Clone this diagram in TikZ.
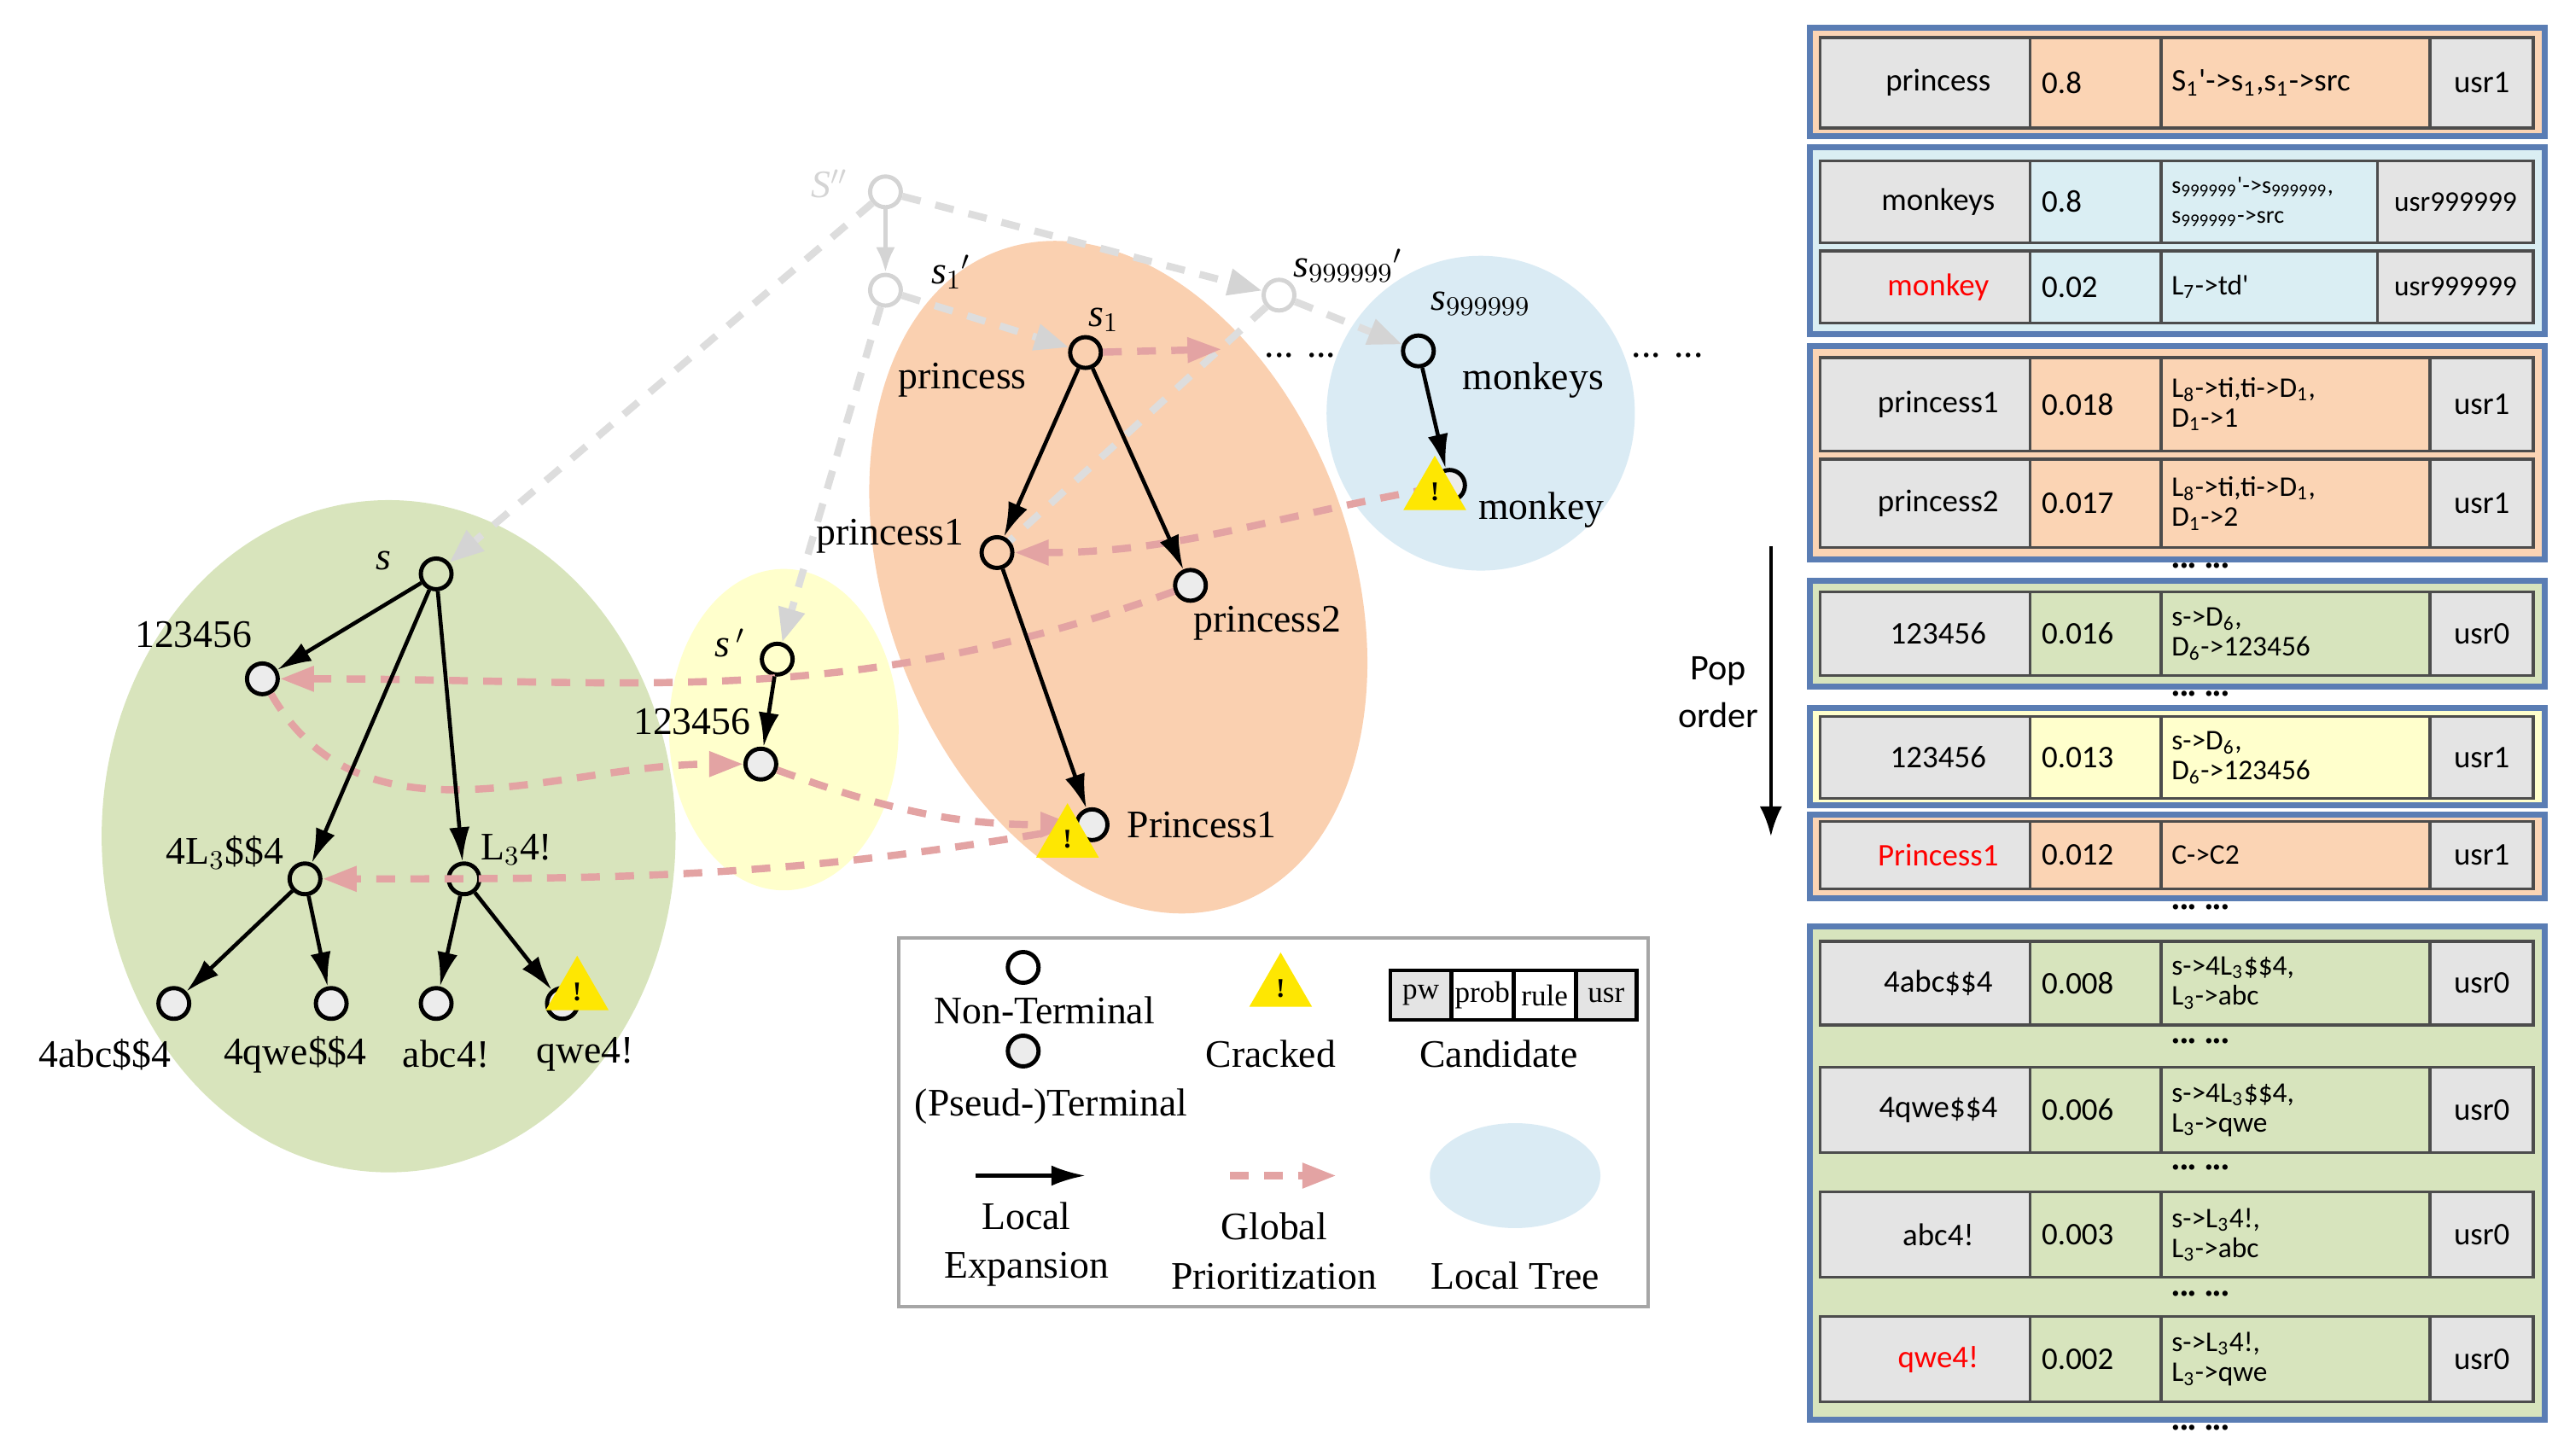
\documentclass[tikz,border=0pt]{standalone}
\usepackage{fontspec}
\setmainfont{Liberation Serif}
\newfontfamily\tsf{Carlito}
\usetikzlibrary{arrows.meta,shapes.geometric}
\definecolor{eGreen}{HTML}{D8E4BC}
\definecolor{eYellow}{HTML}{FFFFCC}
\definecolor{eOrange}{HTML}{FAD0B0}
\definecolor{eBlue}{HTML}{DAEBF4}
\definecolor{tOrange}{HTML}{FBD4B4}
\definecolor{tBlue}{HTML}{DAEEF3}
\definecolor{tGreen}{HTML}{D7E4BD}
\definecolor{tYellow}{HTML}{FFFFCC}
\definecolor{tGrey}{HTML}{E4E4E4}
\definecolor{frame}{HTML}{5A7DB4}
\definecolor{gpink}{HTML}{E3A3A3}
\definecolor{ghost}{HTML}{D4D4D4}
\tikzset{
  nt/.style={circle,draw=black,line width=1.4pt,fill=none,minimum size=3.6mm,inner sep=0pt},
  tm/.style={nt,fill=gray!15},
  lbl/.style={font=\fontsize{13}{14}\selectfont,inner sep=1pt},
  gnt/.style={circle,draw=ghost,line width=1.4pt,minimum size=3.6mm,inner sep=0pt},
  loc/.style={-{Latex[length=4mm,width=2.4mm]},line width=1.3pt},
  glob/.style={-{Triangle[length=4mm,width=2.8mm,color=gpink,fill=gpink]},dash pattern=on 2.2mm off 1.8mm,line width=2.4pt,draw=gpink},
  ghostl/.style={-{Triangle[length=4mm,width=3mm,color=ghost,fill=ghost]},dash pattern=on 2.2mm off 1.8mm,line width=2.4pt,draw=ghost!80},
  crack/.style={regular polygon,regular polygon sides=3,fill=yellow!90!orange,minimum size=8.5mm,inner sep=0pt,font=\bfseries\fontsize{9}{9}\selectfont},
  tt/.style={font=\tsf\fontsize{10.5}{11}\selectfont,inner sep=1pt},
  tr/.style={font=\tsf\fontsize{9.5}{10}\selectfont,inner sep=0pt,align=left},
  cell/.style={draw=black!70,line width=1pt},
  grp/.style={draw=frame,line width=2pt},
}
\newcommand\trow[8]{%
  \pgfmathsetmacro\ym{(#1+#2)/2}%
  \pgfmathsetmacro\xu{(#8+1545)/2}%
  \fill[tGrey] (1110,#1) rectangle (1238,#2);
  \fill[#7] (1238,#1) rectangle (#8,#2);
  \fill[tGrey] (#8,#1) rectangle (1545,#2);
  \draw[cell] (1110,#1) rectangle (1545,#2);
  \draw[cell] (1238,#1) -- (1238,#2) (1318,#1) -- (1318,#2) (#8,#1) -- (#8,#2);
  \node[tt] at (1182,\ym) {#3};
  \node[tt,anchor=west] at (1243,\ym) {#4};
  \node[tr,anchor=west] at (1324,\ym) {#5};
  \node[tt] at (\xu,\ym) {#6};
}
\newcommand\grp[3]{\fill[#3] (1104,#1) rectangle (1552,#2); \draw[grp] (1104,#1) rectangle (1552,#2);}
\newcommand\tdots[1]{\node[font=\bfseries\fontsize{11}{11}\selectfont,inner sep=0pt] at (1342,#1-3) {\textbf{...\ ...}};}
\begin{document}
\begin{tikzpicture}[x=0.1921mm,y=-0.1921mm]
\useasboundingbox (0,0) rectangle (1560,888);
% ellipses
\fill[eGreen] (237,510) ellipse [x radius=175,y radius=205];
\fill[eYellow] (478,445) ellipse [x radius=70,y radius=98];
\fill[eOrange,rotate around={20:(682,352)}] (682,352) ellipse [x radius=142,y radius=212];
\fill[eBlue] (903,252) ellipse [x radius=94,y radius=96];
% ghost nodes
\node[gnt] (gS) at (540,117) {};
\node[gnt] (gs1) at (540,177) {};
\node[gnt] (gs9) at (780,180) {};
\node[font=\itshape\fontsize{13}{14}\selectfont,text=ghost] at (506,112) {S$''$};
\node[lbl,font=\itshape\fontsize{13}{14}\selectfont] at (580,166) {s$_1$$'$};
\node[lbl,font=\itshape\fontsize{13}{14}\selectfont] at (822,162) {s$_{999999}$$'$};
% tree nodes
\node[nt] (s) at (266,350) {};
\node[tm] (a1) at (160,414) {};
\node[nt] (b1) at (186,536) {};
\node[nt] (b2) at (283,536) {};
\node[tm] (c1) at (106,612) {};
\node[tm] (c2) at (202,612) {};
\node[tm] (c3) at (266,612) {};
\node[tm] (c4) at (343,612) {};
\node[nt] (sp) at (474,402) {};
\node[tm] (a2) at (464,466) {};
\node[nt] (s1) at (662,215) {};
\node[nt] (p1) at (608,337) {};
\node[tm] (p2) at (726,357) {};
\node[tm] (P1) at (666,503) {};
\node[nt] (s9) at (865,214) {};
\node[tm] (mk) at (884,296) {};
% ghost lines
\draw[ghost,line width=1.6pt,-{Latex[length=3mm]}] (gS) -- (gs1);
\draw[ghostl] (gS) -- (s);
\draw[ghostl] (gs1) -- (sp);
\draw[ghostl] (gS) -- (gs9);
\draw[ghostl] (gs1) -- (s1);
\draw[ghostl] (gs9) -- (s9);
\draw[ghostl,-] (gs9) -- (p1);
% global prioritization
\draw[glob] (s1) -- (745,213);
\draw[glob] (mk) to[out=190,in=0] (p1);
\draw[glob] (p2) to[out=200,in=0] (a1);
\draw[glob] (a1) to[out=-60,in=180] (a2);
\draw[glob] (a2) to[out=-20,in=180] (P1);
\draw[glob] (P1) to[out=190,in=0] (b1);
% local expansion
\draw[loc] (s) -- (a1);
\draw[loc] (s) -- (b1);
\draw[loc] (s) -- (b2);
\draw[loc] (b1) -- (c1);
\draw[loc] (b1) -- (c2);
\draw[loc] (b2) -- (c3);
\draw[loc] (b2) -- (c4);
\draw[loc] (sp) -- (a2);
\draw[loc] (s1) -- (p1);
\draw[loc] (s1) -- (p2);
\draw[loc] (p1) -- (P1);
\draw[loc] (s9) -- (mk);
% cracked
\node[crack] (k1) at (352,605) {!};
\node[crack] (k2) at (651,512) {!};
\node[crack] (k3) at (875,300) {!};
% labels
\node[lbl,font=\itshape\fontsize{13}{14}\selectfont] at (234,342) {s};
\node[lbl] at (118,387) {123456};
\node[lbl] at (137,520) {4L$_3$\$\$4};
\node[lbl] at (315,518) {L$_3$4!};
\node[lbl] at (64,643) {4abc\$\$4};
\node[lbl] at (180,643) {4qwe\$\$4};
\node[lbl] at (272,643) {abc4!};
\node[lbl] at (357,643) {qwe4!};
\node[lbl,font=\itshape\fontsize{13}{14}\selectfont] at (445,392) {s$\,'$};
\node[lbl] at (422,440) {123456};
\node[lbl] at (587,232) {princess};
\node[lbl,font=\itshape\fontsize{13}{14}\selectfont] at (673,195) {s$_1$};
\node[lbl] at (543,327) {princess1};
\node[lbl] at (773,380) {princess2};
\node[lbl] at (733,503) {Princess1};
\node[lbl,font=\itshape\fontsize{13}{14}\selectfont] at (903,185) {s$_{999999}$};
\node[lbl] at (935,232) {monkeys};
\node[lbl] at (940,311) {monkey};
\node[lbl] at (793,217) {... ...};
\node[lbl] at (1017,217) {... ...};
% legend
\draw[gray!70,line width=1pt] (548,572) rectangle (1005,797);
\node[nt] (lg1) at (624,590) {};
\node[lbl] at (637,616) {Non-Terminal};
\node[tm] (lg2) at (624,641) {};
\node[lbl] at (641,675) {(Pseud-)Terminal};
\node[crack] (lg3) at (781,603) {!};
\node[lbl] at (775,643) {Cracked};
\foreach \xa/\xb/\t/\f in {848/885/pw/tGrey,885/923/prob/white,923/961/rule/white,961/998/usr/tGrey}
  \node[draw=black,line width=1.3pt,fill=\f,minimum width=\xb*0.1921mm-\xa*0.1921mm,minimum height=5.8mm,inner sep=0pt,font=\fontsize{10}{10}\selectfont] at ({(\xa+\xb)/2},607) {\t};
\node[lbl] at (914,643) {Candidate};
\coordinate (la) at (595,717); \coordinate (lb) at (662,717);
\draw[loc] (la) -- (lb);
\node[lbl,align=center] at (626,759) {Local\\[0.4ex]Expansion};
\coordinate (lc) at (750,717); \coordinate (ld) at (815,717);
\draw[glob] (lc) -- (ld);
\node[lbl,align=center] at (777,763) {Global\\[0.4ex]Prioritization};
\fill[eBlue] (924,717) ellipse [x radius=52,y radius=32];
\node[lbl] at (924,778) {Local Tree};
% pop order
\coordinate (po1) at (1080,333); \coordinate (po2) at (1080,510);
\draw[line width=1.2pt,-{Latex[length=3.5mm]}] (po1) -- (po2);
\node[tt,align=center,font=\tsf\fontsize{12}{16}\selectfont] at (1048,422) {Pop\\order};
% table
\grp{17}{83}{tOrange}
\trow{23}{78}{princess}{0.8}{\fontsize{10.5}{11}\selectfont S\textsubscript{1}'->s\textsubscript{1},s\textsubscript{1}->src}{usr1}{tOrange}{1482}
\grp{90}{204}{tBlue}
\trow{98}{148}{monkeys}{0.8}{\fontsize{8}{11}\selectfont s\textsubscript{999999}'->s\textsubscript{999999},\\\fontsize{8}{11}\selectfont s\textsubscript{999999}->src}{\fontsize{9.5}{10}\selectfont usr999999}{tBlue}{1450}
\trow{153}{197}{\textcolor{red}{monkey}}{0.02}{L\textsubscript{7}->td'}{\fontsize{9.5}{10}\selectfont usr999999}{tBlue}{1450}
\grp{211}{341}{tOrange}
\trow{218}{275}{princess1}{0.018}{L\textsubscript{8}->ti,ti->D\textsubscript{1},\\D\textsubscript{1}->1}{usr1}{tOrange}{1482}
\trow{280}{334}{princess2}{0.017}{L\textsubscript{8}->ti,ti->D\textsubscript{1},\\D\textsubscript{1}->2}{usr1}{tOrange}{1482}
\tdots{348}
\grp{354}{419}{tGreen}
\trow{361}{412}{123456}{0.016}{s->D\textsubscript{6},\\D\textsubscript{6}->123456}{usr0}{tGreen}{1482}
\tdots{426}
\grp{432}{491}{tYellow}
\trow{437}{487}{123456}{0.013}{s->D\textsubscript{6},\\D\textsubscript{6}->123456}{usr1}{tYellow}{1482}
\grp{497}{548}{tOrange}
\trow{501}{542}{\textcolor{red}{Princess1}}{0.012}{C->C2}{usr1}{tOrange}{1482}
\tdots{556}
\grp{565}{866}{tGreen}
\trow{574}{625}{4abc\$\$4}{0.008}{s->4L\textsubscript{3}\$\$4,\\L\textsubscript{3}->abc}{usr0}{tGreen}{1482}
\tdots{638}
\trow{651}{703}{4qwe\$\$4}{0.006}{s->4L\textsubscript{3}\$\$4,\\L\textsubscript{3}->qwe}{usr0}{tGreen}{1482}
\tdots{715}
\trow{727}{779}{abc4!}{0.003}{s->L\textsubscript{3}4!,\\L\textsubscript{3}->abc}{usr0}{tGreen}{1482}
\tdots{792}
\trow{803}{855}{\textcolor{red}{qwe4!}}{0.002}{s->L\textsubscript{3}4!,\\L\textsubscript{3}->qwe}{usr0}{tGreen}{1482}
\tdots{874}
\end{tikzpicture}
\end{document}
